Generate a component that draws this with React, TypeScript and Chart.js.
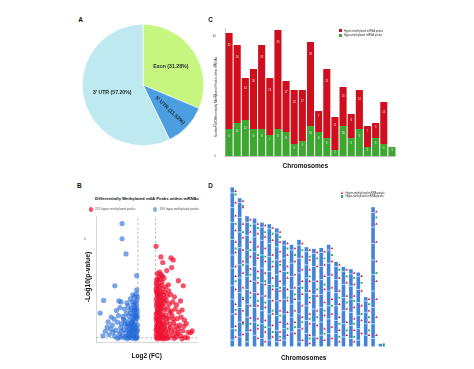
import React, { useEffect, useRef } from 'react';
import { Chart, registerables } from 'chart.js';
Chart.register(...registerables);

const FONT = '"Liberation Sans", Arial, Helvetica, sans-serif';

// ---------- Panel A (pie) ----------
const pieLabels = ['Exon', "5' UTR", "3' UTR"];
const pieValues = [31.28, 11.52, 57.2];
const pieColors = ['#c6f680', '#4b9fe1', '#bfe9f0'];

// ---------- Panel C (stacked bars) ----------
const chromNames = ['1', '2', '3', '4', '5', '6', '7', '8', '9', '10', '11', '12', '13', '14', '15', '16', '17', '18', '19', 'X', 'Y'];
const hyperCounts = [32, 26, 14, 20, 28, 19, 33, 17, 18, 17, 28, 7, 23, 11, 13, 8, 13, 7, 5, 14, 0];
const hypoCounts = [9, 11, 12, 9, 9, 7, 9, 8, 4, 5, 10, 8, 6, 2, 10, 6, 9, 3, 6, 4, 3];
const countTicks = [0, 10, 20, 30, 40];

// ---------- Panel B (volcano) ----------
const hyperPeaks: [number, number][] = [
  [0.40, 18.6], [0.61, 16.5], [1.04, 16.3], [1.14, 15.9], [0.69, 15.4], [1.07, 14.4], [0.86, 13.8], [1.36, 11.8], [1.57, 10.8],
  [0.45, 13.2], [0.52, 12.6], [0.48, 11.9], [0.58, 12.1], [0.66, 11.5], [0.74, 12.3], [0.44, 10.8], [0.55, 10.4], [0.63, 10.9], [0.71, 10.2], [0.82, 10.6], [0.93, 11.0],
  [0.42, 9.6], [0.50, 9.2], [0.57, 9.8], [0.64, 9.4], [0.72, 9.0], [0.79, 9.5], [0.88, 8.8], [1.02, 9.1], [1.19, 8.6],
  [0.41, 8.1], [0.47, 7.6], [0.53, 8.3], [0.60, 7.8], [0.68, 8.0], [0.76, 7.4], [0.84, 7.9], [0.97, 7.2], [1.12, 7.6], [1.28, 7.0], [1.45, 7.8],
  [0.43, 6.6], [0.49, 6.1], [0.56, 6.8], [0.62, 6.3], [0.70, 6.6], [0.78, 6.0], [0.90, 6.4], [1.05, 5.8], [1.22, 6.2], [1.38, 5.6], [1.52, 6.0],
  [0.41, 5.2], [0.46, 4.7], [0.52, 5.4], [0.59, 4.9], [0.66, 5.1], [0.73, 4.6], [0.81, 5.0], [0.95, 4.4], [1.09, 4.9], [1.31, 4.3], [1.48, 4.6], [1.62, 4.0],
  [0.42, 3.8], [0.48, 3.3], [0.55, 3.9], [0.61, 3.4], [0.69, 3.7], [0.77, 3.1], [0.86, 3.6], [1.00, 3.2], [1.16, 3.5], [1.25, 2.8], [1.41, 3.0], [1.70, 3.3],
  [0.44, 2.4], [0.50, 2.0], [0.57, 2.6], [0.64, 2.1], [0.72, 2.3], [0.80, 1.8], [0.92, 2.2], [1.07, 1.7], [1.20, 2.0], [1.35, 1.5], [1.55, 1.9], [1.78, 1.6], [1.89, 1.5], [1.95, 1.9],
  [0.41, 1.2], [0.47, 0.8], [0.54, 1.3], [0.60, 0.9], [0.67, 1.1], [0.75, 0.7], [0.83, 1.0], [0.96, 0.6], [1.12, 1.0], [1.28, 0.7], [1.46, 0.9], [1.65, 0.6],
  [0.45, 0.3], [0.58, 0.4], [0.70, 0.3], [0.88, 0.4], [0.43, 12.0], [0.47, 10.0], [0.51, 11.0], [0.45, 8.8], [0.54, 7.2], [0.46, 5.9], [0.51, 4.2], [0.45, 3.0], [0.53, 1.7],
  [0.40, 10.2], [0.44, 9.4], [0.49, 8.7], [0.42, 7.2], [0.50, 6.9], [0.58, 6.0], [0.44, 5.5], [0.56, 5.6], [0.63, 4.5], [0.40, 4.4], [0.49, 4.0], [0.57, 3.2],
  [0.43, 2.8], [0.52, 2.8], [0.62, 2.9], [0.40, 2.0], [0.48, 1.6], [0.60, 1.5], [0.68, 1.8], [0.76, 2.7], [0.85, 4.3], [0.66, 7.2], [0.74, 8.3], [0.61, 8.6],
  [0.55, 9.0], [0.67, 12.7], [0.41, 11.3], [0.56, 13.5], [0.62, 13.0], [0.94, 9.8], [1.00, 5.5], [1.14, 4.2], [1.02, 2.5], [0.90, 1.4], [0.78, 0.4], [1.18, 0.4],
  [1.38, 2.3], [1.60, 2.8], [1.75, 0.5], [1.52, 0.3], [1.30, 1.3], [0.52, 0.6], [0.64, 0.6], [0.42, 0.6]
];
const hypoPeaks: [number, number][] = [
  [-1.06, 23.1], [-1.06, 20.1], [-0.89, 17.1], [-0.43, 12.8], [-1.37, 10.8], [-0.43, 10.0], [-1.85, 7.9], [-2.0, 5.4], [-1.53, 4.6], [-1.66, 3.65],
  [-0.45, 9.2], [-0.52, 8.6], [-0.60, 9.0], [-0.42, 8.0], [-0.70, 8.2], [-1.10, 7.6], [-1.20, 7.8],
  [-0.44, 7.1], [-0.50, 6.6], [-0.57, 7.0], [-0.65, 6.4], [-0.80, 6.8], [-0.95, 6.2], [-1.15, 6.5], [-1.30, 5.9],
  [-0.41, 5.6], [-0.47, 5.2], [-0.54, 5.8], [-0.61, 5.0], [-0.69, 5.4], [-0.77, 4.8], [-0.88, 5.3], [-1.02, 4.7], [-1.22, 4.9], [-1.40, 4.2],
  [-0.42, 4.3], [-0.49, 3.8], [-0.56, 4.4], [-0.63, 3.6], [-0.72, 4.0], [-0.82, 3.4], [-0.93, 3.9], [-1.08, 3.3], [-1.26, 3.6], [-1.48, 3.0], [-1.70, 2.6],
  [-0.40, 3.0], [-0.46, 2.6], [-0.53, 3.1], [-0.60, 2.4], [-0.67, 2.8], [-0.75, 2.2], [-0.85, 2.7], [-0.98, 2.1], [-1.12, 2.5], [-1.33, 2.0], [-1.55, 2.2], [-1.78, 1.8],
  [-0.43, 1.8], [-0.50, 1.4], [-0.57, 1.9], [-0.64, 1.2], [-0.71, 1.6], [-0.79, 1.0], [-0.90, 1.5], [-1.04, 0.9], [-1.18, 1.3], [-1.38, 0.8], [-1.62, 1.1], [-1.88, 0.9],
  [-0.41, 0.6], [-0.48, 0.3], [-0.55, 0.7], [-0.62, 0.4], [-0.70, 0.6], [-0.83, 0.3], [-0.97, 0.5], [-1.25, 0.4],
  [-0.40, 2.0], [-0.44, 1.2], [-0.52, 2.2], [-0.58, 1.0], [-0.66, 2.0], [-0.74, 1.4], [-0.82, 2.0], [-0.88, 0.8], [-0.40, 4.8], [-0.47, 4.6],
  [-0.52, 4.9], [-0.59, 4.1], [-0.66, 3.3], [-0.78, 3.0], [-0.94, 3.2], [-1.10, 1.8], [-1.00, 4.2], [-0.42, 6.3], [-0.47, 6.0], [-0.55, 6.0],
  [-0.73, 6.0], [-0.62, 7.6], [-0.40, 8.6], [-0.50, 7.6], [-0.85, 7.4], [-1.45, 1.6], [-1.15, 0.6], [-0.78, 0.6], [-0.44, 0.5], [-0.60, 3.0]
];
const fcTicks = [-2, -1, 0, 1, 2];
const pTicks = [10, 20];
const fcThreshold = 0.38;
const pThreshold = 0.5;

// ---------- Panel D (chromosome map) ----------
const chromLengthsMb = [195, 182, 160, 157, 152, 150, 145, 130, 125, 131, 122, 120, 121, 125, 104, 98, 95, 91, 61, 171, 4];
const hyperSitesMb: number[][] = [
  [190, 176, 160, 142, 128, 115, 98, 86, 70, 52, 40, 25, 12],
  [178, 170, 150, 133, 118, 104, 90, 72, 58, 44, 30, 15],
  [155, 140, 128, 110, 95, 80, 66, 50, 35, 20],
  [150, 138, 122, 108, 92, 78, 64, 50, 34, 22, 10],
  [148, 134, 120, 104, 90, 76, 62, 48, 32, 18, 6],
  [145, 130, 112, 98, 84, 70, 56, 40, 26, 12],
  [140, 128, 116, 104, 92, 80, 68, 56, 44, 30, 18, 8],
  [126, 112, 98, 84, 70, 56, 42, 28, 14],
  [120, 104, 88, 72, 58, 44, 30, 16],
  [126, 110, 94, 80, 64, 50, 36, 22, 8],
  [118, 106, 94, 80, 68, 54, 40, 28, 14, 4],
  [115, 98, 80, 62, 44, 26, 10],
  [116, 100, 86, 70, 54, 38, 22, 8],
  [120, 104, 88, 72, 58, 40, 24, 10],
  [100, 84, 68, 52, 36, 20, 6],
  [94, 78, 62, 46, 30, 14],
  [90, 76, 62, 48, 34, 20, 6],
  [86, 68, 50, 32, 16],
  [58, 44, 30, 14],
  [165, 150, 128, 104, 80, 58, 36, 14],
  []
];
const hypoSitesMb: number[][] = [
  [186, 150, 120, 80, 45, 20],
  [172, 140, 100, 60, 28],
  [148, 118, 88, 60, 28],
  [145, 112, 84, 56, 26],
  [140, 110, 80, 54, 24],
  [138, 104, 74, 44, 18],
  [134, 100, 72, 38, 12],
  [120, 90, 60, 22],
  [112, 64, 24],
  [118, 72, 30],
  [110, 86, 60, 34, 10],
  [108, 70, 36],
  [108, 76, 44, 16],
  [112, 50],
  [94, 60, 28, 12],
  [86, 54, 20],
  [84, 56, 28, 12],
  [78, 40],
  [52, 36, 20],
  [158, 90],
  [3, 1]
];
const bandSitesMb: number[][] = [
  [188, 170, 152, 131, 112, 96, 75, 58, 40, 22, 8],
  [176, 158, 140, 121, 100, 84, 66, 48, 30, 12],
  [152, 136, 118, 101, 86, 70, 52, 36, 18, 6],
  [150, 134, 116, 98, 80, 66, 48, 30, 14],
  [146, 130, 112, 96, 78, 62, 44, 28, 10],
  [144, 126, 110, 92, 76, 58, 40, 24, 8],
  [139, 122, 106, 88, 72, 56, 38, 20, 6],
  [124, 108, 92, 74, 58, 40, 22, 8],
  [118, 102, 86, 70, 52, 36, 18],
  [124, 108, 90, 74, 56, 40, 22, 6],
  [116, 100, 84, 66, 50, 32, 16],
  [114, 98, 80, 64, 46, 30, 12],
  [115, 98, 82, 64, 48, 30, 14],
  [118, 102, 86, 68, 50, 34, 16],
  [98, 82, 66, 50, 32, 16],
  [92, 76, 60, 44, 28, 12],
  [89, 74, 58, 42, 26, 10],
  [86, 70, 54, 38, 22, 8],
  [56, 42, 28, 14],
  [164, 146, 126, 106, 88, 68, 48, 28, 10],
  []
];

// ---------- helpers ----------
const baseOpts = {
  responsive: false,
  animation: false as const,
  devicePixelRatio: 1,
  events: [] as any[],
  plugins: { legend: { display: false }, tooltip: { enabled: false }, title: { display: false } },
};

function ChartCanvas({ left, top, width, height, make }: any) {
  const ref = useRef<HTMLCanvasElement>(null);
  useEffect(() => {
    const c = new Chart(ref.current as HTMLCanvasElement, make());
    return () => c.destroy();
  }, []);
  return (
    <canvas ref={ref} width={width} height={height}
      style={{ position: 'absolute', left, top, width, height }} />
  );
}

function Txt({ x, y, size, bold = false, rot = 0, color = '#111', align = 'center', children }: any) {
  const tx = align === 'center' ? '-50%' : align === 'left' ? '0' : '-100%';
  return (
    <div style={{
      position: 'absolute', left: x, top: y, transform: `translate(${tx},-50%) rotate(${rot}deg)`,
      fontSize: size, fontWeight: bold ? 700 : 400, fontFamily: FONT, color, whiteSpace: 'nowrap', lineHeight: 1,
    }}>{children}</div>
  );
}

// ---------- plugins ----------
const pieLabelRadius = [0.55, 0.61, 0.52];
const pieLabelRotate = [false, true, false];
const pieLabelPlugin = {
  id: 'pieLabels',
  afterDatasetsDraw(chart: any) {
    const ctx = chart.ctx;
    const meta = chart.getDatasetMeta(0);
    meta.data.forEach((arc: any, i: number) => {
      const p = arc.getProps(['x', 'y', 'startAngle', 'endAngle', 'outerRadius'], true);
      const mid = (p.startAngle + p.endAngle) / 2;
      const r = p.outerRadius * pieLabelRadius[i];
      ctx.save();
      ctx.translate(p.x + Math.cos(mid) * r, p.y + Math.sin(mid) * r);
      if (pieLabelRotate[i]) ctx.rotate(mid);
      ctx.font = `bold 5.2px ${FONT}`;
      ctx.fillStyle = '#1d2a2a';
      ctx.textAlign = 'center';
      ctx.textBaseline = 'middle';
      ctx.fillText(`${pieLabels[i]} (${pieValues[i].toFixed(2)}%)`, 0, 0);
      ctx.restore();
    });
  },
};

const barValuePlugin = {
  id: 'barValues',
  afterDatasetsDraw(chart: any) {
    const ctx = chart.ctx;
    chart.data.datasets.forEach((ds: any, di: number) => {
      const meta = chart.getDatasetMeta(di);
      meta.data.forEach((bar: any, i: number) => {
        const v = ds.data[i];
        if (!v) return;
        const h = bar.base - bar.y;
        ctx.save();
        ctx.font = `2.6px ${FONT}`;
        ctx.fillStyle = 'rgba(255,255,255,0.9)';
        ctx.textAlign = 'center';
        ctx.textBaseline = 'middle';
        ctx.fillText(String(v), bar.x, bar.y + Math.min(12, h * 0.2 + 1.5));
        ctx.restore();
      });
    });
  },
};

// ---------- chart configs ----------
const makePie = () => ({
  type: 'pie',
  data: {
    labels: pieLabels,
    datasets: [{ data: pieValues, backgroundColor: pieColors, borderColor: '#ffffff', borderWidth: 0.6 }],
  },
  options: { ...baseOpts, layout: { padding: 0 } },
  plugins: [pieLabelPlugin],
});

const tickFont = { size: 3, family: FONT };

const makeBars = () => ({
  type: 'bar',
  data: {
    labels: chromNames,
    datasets: [
      { label: 'Hypo-methylated mRNA peaks', data: hypoCounts, backgroundColor: '#3ea731', stack: 's', barPercentage: 0.87, categoryPercentage: 1 },
      { label: 'Hyper-methylated mRNA peaks', data: hyperCounts, backgroundColor: '#cf0f1e', stack: 's', barPercentage: 0.87, categoryPercentage: 1 },
    ],
  },
  options: {
    ...baseOpts,
    layout: { padding: { top: 6, left: 0, right: 0, bottom: 0 } },
    scales: {
      x: {
        stacked: true,
        grid: { display: false },
        border: { display: true, color: '#9a9a9a', width: 0.6 },
        ticks: { font: tickFont, color: '#555', padding: 1, maxRotation: 0, autoSkip: false },
        afterFit: (s: any) => { s.height = 6; },
      },
      y: {
        stacked: true, min: 0, max: 42.67,
        grid: { display: false },
        border: { display: true, color: '#9a9a9a', width: 0.6 },
        ticks: { font: tickFont, color: '#555', padding: 1 },
        afterBuildTicks: (s: any) => { s.ticks = countTicks.map((v) => ({ value: v })); },
        afterFit: (s: any) => { s.width = 13; },
      },
    },
  },
  plugins: [barValuePlugin],
});

const VOL_X = [-2.18, 2.16];
const VOL_Y = [-0.33, 24.6];
const dashLine = (pts: { x: number; y: number }[]) => ({
  type: 'line', data: pts, borderColor: '#a8a8a8', borderDash: [2.5, 2], borderWidth: 0.8,
  pointRadius: 0, showLine: true, order: 5,
});

const makeVolcano = () => ({
  type: 'scatter',
  data: {
    datasets: [
      dashLine([{ x: -fcThreshold, y: pThreshold }, { x: -fcThreshold, y: VOL_Y[1] }]),
      dashLine([{ x: fcThreshold, y: pThreshold }, { x: fcThreshold, y: VOL_Y[1] }]),
      dashLine([{ x: VOL_X[0], y: pThreshold }, { x: VOL_X[1], y: pThreshold }]),
      { label: 'hypo', data: hypoPeaks.map(([x, y]) => ({ x, y })), backgroundColor: 'rgba(34,104,214,0.6)', borderWidth: 0, pointRadius: 2.6, order: 1 },
      { label: 'hyper', data: hyperPeaks.map(([x, y]) => ({ x, y })), backgroundColor: 'rgba(238,18,50,0.72)', borderWidth: 0, pointRadius: 2.6, order: 1 },
    ],
  },
  options: {
    ...baseOpts,
    layout: { padding: { top: 3, right: 5, left: 0, bottom: 0 } },
    scales: {
      x: {
        type: 'linear', min: VOL_X[0], max: VOL_X[1],
        grid: { display: false },
        border: { display: true, color: '#c8c8c8', width: 0.7 },
        ticks: { font: tickFont, color: '#666', padding: 2 },
        afterBuildTicks: (s: any) => { s.ticks = fcTicks.map((v) => ({ value: v })); },
        afterFit: (s: any) => { s.height = 10; },
      },
      y: {
        type: 'linear', min: VOL_Y[0], max: VOL_Y[1],
        grid: { display: false },
        border: { display: true, color: '#c8c8c8', width: 0.7 },
        ticks: { font: tickFont, color: '#666', padding: 2 },
        afterBuildTicks: (s: any) => { s.ticks = pTicks.map((v) => ({ value: v })); },
        afterFit: (s: any) => { s.width = 12; },
      },
    },
  },
});

const MARK_OFFSET = 0.45;
const makeChromMap = () => ({
  type: 'bar',
  data: {
    datasets: [
      {
        type: 'bar',
        data: chromLengthsMb.map((len, i) => ({ x: i + 1, y: [0, len] })),
        backgroundColor: '#4384d8', borderColor: '#8dbcee', borderWidth: 0.4,
        barPercentage: 0.58, categoryPercentage: 1, order: 4,
      },
      {
        type: 'scatter',
        data: bandSitesMb.flatMap((arr, i) => arr.map((mb) => ({ x: i + 1, y: mb }))),
        pointStyle: 'line', pointRadius: 2.3, borderColor: 'rgba(196,236,246,0.85)', borderWidth: 1, order: 3,
      },
      {
        type: 'scatter',
        data: hypoSitesMb.flatMap((arr, i) => arr.map((mb) => ({ x: i + 1 + MARK_OFFSET, y: mb }))),
        pointStyle: 'rect', pointRadius: 1.3, backgroundColor: '#27b04a', borderWidth: 0, order: 2,
      },
      {
        type: 'scatter',
        data: hyperSitesMb.flatMap((arr, i) => arr.map((mb) => ({ x: i + 1 + MARK_OFFSET, y: mb }))),
        pointStyle: 'triangle', pointRadius: 1.5, backgroundColor: '#e3173d', borderWidth: 0, order: 1,
      },
    ],
  },
  options: {
    ...baseOpts,
    layout: { padding: { top: 2.9, left: 8.8, right: 0.8, bottom: 0 } },
    scales: {
      x: {
        type: 'linear', min: 0.5, max: chromNames.length + 0.5,
        grid: { display: false },
        border: { display: false },
        ticks: { font: tickFont, color: '#555', padding: 1, callback: (v: number) => chromNames[v - 1] },
        afterBuildTicks: (s: any) => { s.ticks = chromNames.map((_, i) => ({ value: i + 1 })); },
        afterFit: (s: any) => { s.height = 7.3; },
      },
      y: { display: false, min: 0, max: 200 },
    },
  },
});

// ---------- App ----------
export default function App() {
  return (
    <div style={{ position: 'absolute', left: 0, top: 0, width: 474, height: 369, background: '#fff', overflow: 'hidden', fontFamily: FONT }}>
      <ChartCanvas left={82} top={24} width={122} height={122} make={makePie} />
      <ChartCanvas left={212} top={22} width={184} height={140} make={makeBars} />
      <ChartCanvas left={84} top={212} width={118} height={140} make={makeVolcano} />
      <ChartCanvas left={212} top={178} width={185} height={176} make={makeChromMap} />

      <Txt x={80.7} y={20} size={6.5} bold>A</Txt>
      <Txt x={210.7} y={20} size={6.5} bold>C</Txt>
      <Txt x={79.3} y={185.7} size={6.5} bold>B</Txt>
      <Txt x={210.7} y={185.7} size={6.5} bold>D</Txt>

      {/* Panel C texts */}
      <Txt x={217.4} y={97} size={3.2} rot={-90} color="#222">Number of Differentially Methylated Peaks within mRNAs</Txt>
      <Txt x={305.3} y={166} size={6.5} bold>Chromosomes</Txt>
      <div style={{ position: 'absolute', left: 338.5, top: 29, width: 3.5, height: 3, background: '#cf0f1e' }} />
      <Txt x={344} y={30.6} size={2.8} align="left" color="#333">Hyper-methylated mRNA peaks</Txt>
      <div style={{ position: 'absolute', left: 338.5, top: 33.5, width: 3.5, height: 3, background: '#3ea731' }} />
      <Txt x={344} y={35.1} size={2.8} align="left" color="#333">Hypo-methylated mRNA peaks</Txt>

      {/* Panel B texts */}
      <Txt x={147} y={199} size={4.3} bold>Differentially Methylated m6A Peaks within mRNAs</Txt>
      <div style={{ position: 'absolute', left: 88.5, top: 207.3, width: 4.4, height: 4.4, borderRadius: '50%', background: 'rgba(238,18,50,0.75)' }} />
      <Txt x={95} y={209.5} size={3.2} align="left" color="#555">253 hyper-methylated peaks</Txt>
      <div style={{ position: 'absolute', left: 152.8, top: 207.3, width: 4.4, height: 4.4, borderRadius: '50%', background: 'rgba(60,140,225,0.65)' }} />
      <Txt x={159.5} y={209.5} size={3.2} align="left" color="#555">190 hypo-methylated peaks</Txt>
      <Txt x={88} y={277} size={6.8} bold rot={-90}>-Log10(p-value)</Txt>
      <Txt x={146.7} y={356} size={6.5} bold>Log2 (FC)</Txt>

      {/* Panel D texts */}
      <div style={{ position: 'absolute', left: 340.5, top: 191, width: 0, height: 0, borderLeft: '1.6px solid transparent', borderRight: '1.6px solid transparent', borderBottom: '3px solid #e3173d' }} />
      <Txt x={345.5} y={192.6} size={2.8} align="left" color="#333">Hyper-methylated mRNA peaks</Txt>
      <div style={{ position: 'absolute', left: 340.7, top: 194.8, width: 2.8, height: 2.8, background: '#27b04a' }} />
      <Txt x={345.5} y={196.2} size={2.8} align="left" color="#333">Hypo-methylated mRNA peaks</Txt>
      <Txt x={303.7} y={358.3} size={6.5} bold>Chromosomes</Txt>
    </div>
  );
}
